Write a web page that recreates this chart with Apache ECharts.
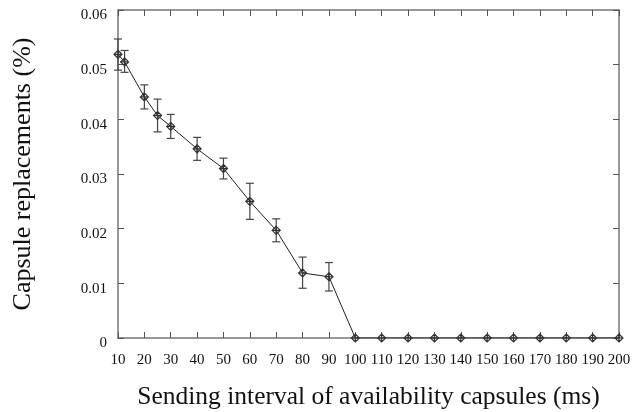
<!DOCTYPE html>
<html>
<head>
<meta charset="utf-8">
<script src="https://cdn.jsdelivr.net/npm/echarts@6/dist/echarts.min.js"></script>
<style>html,body{margin:0;padding:0;background:#fff}#c{width:637px;height:412px}</style>
</head>
<body>
<div id="c"></div>
<script>
var xValues = [10, 12.5, 20, 25, 30, 40, 50, 60, 70, 80, 90, 100, 110, 120, 130, 140, 150, 160, 170, 180, 190, 200];
var yValues = [0.0519, 0.0505, 0.0441, 0.0407, 0.0387, 0.0346, 0.0310, 0.0250, 0.0197, 0.0119, 0.0112, 0, 0, 0, 0, 0, 0, 0, 0, 0, 0, 0];
var errLow  = [0.0490, 0.0486, 0.0419, 0.0377, 0.0365, 0.0325, 0.0291, 0.0217, 0.0176, 0.0091, 0.0086, 0, 0, 0, 0, 0, 0, 0, 0, 0, 0, 0];
var errHigh = [0.0547, 0.0526, 0.0463, 0.0437, 0.0409, 0.0367, 0.0329, 0.0283, 0.0218, 0.0148, 0.0138, 0, 0, 0, 0, 0, 0, 0, 0, 0, 0, 0];

var lineData = xValues.map(function (x, i) { return [x, yValues[i]]; });
var errData = [];
xValues.forEach(function (x, i) {
  if (errHigh[i] > errLow[i]) errData.push([x, errLow[i], errHigh[i]]);
});

var axisCol = '#777';
var font = 'Liberation Serif';
var lineSt = {show: true, onZero: false, lineStyle: {color: axisCol, width: 1.5}};
var chart = echarts.init(document.getElementById('c'), null, {renderer: 'canvas'});
chart.setOption({
  animation: false,
  backgroundColor: '#fff',
  grid: {left: 118, right: 18, top: 10, bottom: 74, containLabel: false, outerBoundsMode: 'none'},
  xAxis: [{
    type: 'value', min: 10, max: 200, interval: 10,
    name: 'Sending interval of availability capsules (ms)',
    nameLocation: 'middle', nameGap: 46,
    nameTextStyle: {fontFamily: font, fontSize: 25.5, color: '#111'},
    axisLine: lineSt,
    axisTick: {inside: true, length: 6, lineStyle: {color: '#555'}},
    axisLabel: {fontFamily: font, fontSize: 15, color: '#111', margin: 15},
    splitLine: {show: false}
  }, {
    type: 'value', min: 10, max: 200, interval: 10, position: 'top',
    axisLine: lineSt,
    axisTick: {inside: true, length: 6, lineStyle: {color: '#555'}},
    axisLabel: {show: false}, splitLine: {show: false}
  }],
  yAxis: [{
    type: 'value', min: 0, max: 0.06, interval: 0.01,
    name: 'Capsule replacements (%)',
    nameLocation: 'middle', nameGap: 82, nameRotate: 90,
    nameTextStyle: {fontFamily: font, fontSize: 26, color: '#111'},
    axisLine: lineSt,
    axisTick: {show: true, inside: true, length: 6, lineStyle: {color: '#555'}},
    axisLabel: {fontFamily: font, fontSize: 15, color: '#111', margin: 11,
      verticalAlign: 'top', lineHeight: 11,
      formatter: function (v) { return v === 0 ? '0' : v.toFixed(2); }},
    splitLine: {show: false}
  }, {
    type: 'value', min: 0, max: 0.06, interval: 0.01, position: 'right',
    axisLine: lineSt,
    axisTick: {show: true, inside: true, length: 6, lineStyle: {color: '#555'}},
    axisLabel: {show: false}, splitLine: {show: false}
  }],
  series: [{
    type: 'custom',
    xAxisIndex: 0, yAxisIndex: 0,
    data: errData,
    encode: {x: 0, y: [1, 2]},
    z: 2,
    renderItem: function (params, api) {
      var x = api.value(0);
      var lo = api.coord([x, api.value(1)]);
      var hi = api.coord([x, api.value(2)]);
      var w = 4;
      var st = {stroke: '#444', lineWidth: 1.2};
      return {type: 'group', children: [
        {type: 'line', shape: {x1: lo[0], y1: lo[1], x2: hi[0], y2: hi[1]}, style: st},
        {type: 'line', shape: {x1: lo[0] - w, y1: lo[1], x2: lo[0] + w, y2: lo[1]}, style: st},
        {type: 'line', shape: {x1: hi[0] - w, y1: hi[1], x2: hi[0] + w, y2: hi[1]}, style: st}
      ]};
    }
  }, {
    type: 'line',
    xAxisIndex: 0, yAxisIndex: 0,
    data: lineData,
    z: 3,
    symbol: 'path://M0,-1L1,0L0,1L-1,0ZM-1,0L1,0M0,-1L0,1',
    symbolSize: 8,
    showAllSymbol: true,
    lineStyle: {color: '#222', width: 1},
    itemStyle: {color: 'rgba(255,255,255,0)', borderColor: '#333', borderWidth: 1.2}
  }]
});
</script>
</body>
</html>
